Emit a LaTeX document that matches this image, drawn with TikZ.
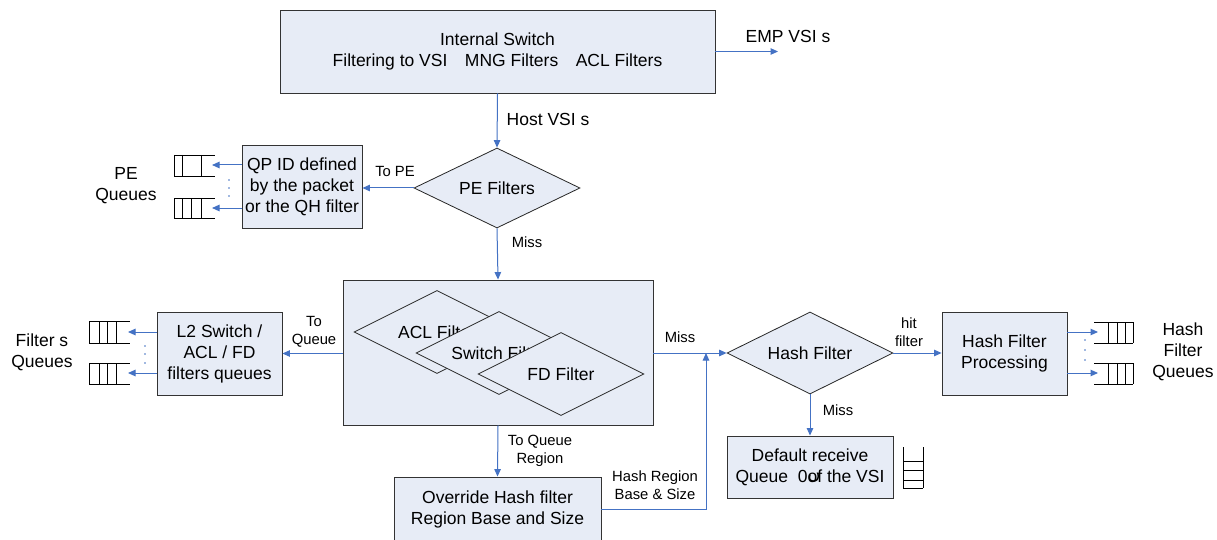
\documentclass[tikz,border=0pt]{standalone}
\usepackage{fontspec}
\setmainfont{Liberation Sans}
\newfontfamily\arabicfont[Script=Arabic]{DejaVu Sans}
\usetikzlibrary{shapes.geometric,arrows.meta}
\definecolor{boxfill}{HTML}{E7ECF6}
\definecolor{arr}{HTML}{4472C4}
\newcommand\mainsz{\fontsize{17.5}{21}\selectfont}
\newcommand\smallsz{\fontsize{14.8}{18.5}\selectfont}
\tikzset{
  box/.style={draw=black!80, fill=boxfill, line width=0.9pt, inner sep=0pt, align=center, font=\mainsz},
  dia/.style={diamond, draw=black!85, fill=boxfill, line width=0.8pt, inner sep=0pt, aspect=2, font=\mainsz, minimum width=166pt, minimum height=82pt},
  conn/.style={draw=arr, line width=1pt, -{Triangle[length=7.5pt,width=6.5pt]}},
  lbl/.style={font=\smallsz, align=center, inner sep=0pt},
  biglbl/.style={font=\mainsz, align=center, inner sep=0pt},
  qline/.style={draw=black, line width=0.8pt},
  qdot/.style={fill=arr, draw=none}
}
\begin{document}
\begin{tikzpicture}[x=1pt,y=-1pt]
\useasboundingbox (0,0) rectangle (1217,540);
\fill[white] (0,0) rectangle (1217,540);

% main nodes
\node[box, minimum width=435pt, minimum height=83pt] (is) at (497.5,51.5) {Internal Switch\\Filtering to VSI\quad MNG Filters\quad ACL Filters};
\node[dia, minimum height=80pt] (pe) at (497,188) {PE Filters};
\node[box, minimum width=120pt, minimum height=83pt] (qp) at (302,186.5) {QP ID defined\\by the packet\\or the QH filter};
\node[box, minimum width=310pt, minimum height=145pt] (big) at (498,352.5) {};
\node[dia, minimum height=83pt] (acl) at (437,332) {ACL Filter};
\node[dia, minimum height=83pt] (sw) at (499,353) {Switch Filter};
\node[dia, minimum height=83pt] (fd) at (561,374) {FD Filter};
\node[box, minimum width=125pt, minimum height=83pt] (l2) at (219.5,353.5) {L2 Switch /\\ACL / FD\\filters queues};
\node[dia] (hash) at (810,353) {Hash Filter};
\node[box, minimum width=125pt, minimum height=83pt] (hfp) at (1004.5,353.5) {Hash Filter\\Processing};
\node[box, minimum width=166pt, minimum height=62pt] (def) at (810,467) {Default receive\\Queue\ \ 0\makebox[0pt][l]{\raisebox{3pt}{\arabicfont ں}}of the VSI};
\node[box, minimum width=207pt, minimum height=64pt] (ov) at (497.5,509) {Override Hash filter\\Region Base and Size};

% free end coordinates
\coordinate (emp) at (778,51.5);
\coordinate (join) at (706,353);
\coordinate (pq1) at (212,165);
\coordinate (pq2) at (212,208);
\coordinate (fq1) at (128,332);
\coordinate (fq2) at (128,373);
\coordinate (hq1) at (1098,332);
\coordinate (hq2) at (1098,373);

% connectors
\draw[conn] (is.east |- emp) -- (emp);
\draw[conn] (is.south) -- (pe.north);
\draw[conn] (pe.west) -- (pe.west -| qp.east);
\draw[conn] (pe.south) -- (big.north);
\draw[conn] (big.west |- l2.east) -- (l2.east);
\draw[conn] (big.east |- hash.west) -- (hash.west);
\draw[conn] (hash.east) -- (hash.east -| hfp.west);
\draw[conn] (hash.south) -- (def.north);
\draw[conn] (big.south) -- (ov.north);
\draw[conn] (ov.east) -| (join);
\draw[conn] (qp.west |- pq1) -- (pq1);
\draw[conn] (qp.west |- pq2) -- (pq2);
\draw[conn] (l2.west |- fq1) -- (fq1);
\draw[conn] (l2.west |- fq2) -- (fq2);
\draw[conn] (hfp.east |- hq1) -- (hq1);
\draw[conn] (hfp.east |- hq2) -- (hq2);

% labels
\node[biglbl] (lemp) at (788,36) {EMP VSI s};
\node[biglbl] (lhost) at (548,119) {Host VSI s};
\node[lbl] (ltope) at (395,171) {To PE};
\node[lbl] (lmiss1) at (527,242) {Miss};
\node[lbl] (ltoq) at (314,332) {To\\Queue};
\node[lbl] (lmiss2) at (680,337) {Miss};
\node[lbl] (lhit) at (909,332) {hit\\filter};
\node[lbl] (lmiss3) at (838,410) {Miss};
\node[lbl] (ltqr) at (540,451) {To Queue\\Region};
\node[lbl] (lhrb) at (655,485) {Hash Region\\Base \& Size};
\node[biglbl] (lpeq) at (126,186) {PE\\Queues};
\node[biglbl] (lfq) at (42,352) {Filter s\\Queues};
\node[biglbl] (lhq) at (1183,352) {Hash\\Filter\\Queues};

% PE queues
\draw[qline] (174,155) -- (215,155) (174,176) -- (215,176)
  (174,155) -- (174,176) (182,155) -- (182,176) (201,155) -- (201,176);
\draw[qline] (174,198) -- (215,198) (174,218) -- (215,218)
  (174,198) -- (174,218) (182,198) -- (182,218) (191,198) -- (191,218) (201,198) -- (201,218);
\foreach \y in {180,188,196} \fill[qdot] (229,\y) circle (0.9);

% Filter queues
\foreach \a/\b in {321/343,363/384}{
  \draw[qline] (89,\a) -- (130,\a) (89,\b) -- (130,\b)
    (89,\a) -- (89,\b) (99,\a) -- (99,\b) (107,\a) -- (107,\b) (116,\a) -- (116,\b);
}
\foreach \y in {346,354,363} \fill[qdot] (145,\y) circle (0.9);

% Hash queues
\foreach \a/\b in {322/343,363/384}{
  \draw[qline] (1094,\a) -- (1133,\a) (1094,\b) -- (1133,\b)
    (1108,\a) -- (1108,\b) (1117,\a) -- (1117,\b) (1125,\a) -- (1125,\b) (1133,\a) -- (1133,\b);
}
\foreach \y in {340,350,360} \fill[qdot] (1085,\y) circle (0.9);

% vertical queue by default box
\draw[qline] (903,447) -- (903,488) (923,447) -- (923,488)
  (903,461) -- (923,461) (903,470) -- (923,470) (903,480) -- (923,480) (903,488) -- (923,488);
\end{tikzpicture}
\end{document}
